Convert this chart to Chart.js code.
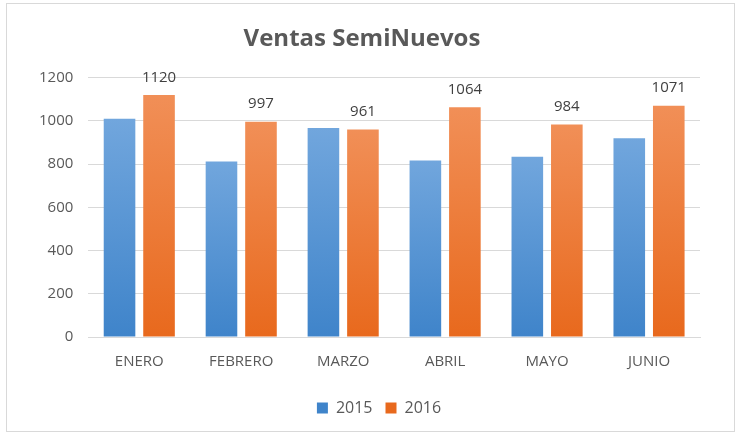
<!DOCTYPE html>
<html>
<head>
<meta charset="utf-8">
<script src="https://cdn.jsdelivr.net/npm/chart.js@4/dist/chart.umd.min.js"></script>
<style>
  html, body { margin: 0; padding: 0; background: #fff; }
  #wrap { position: relative; width: 742px; height: 435px; }
  #frame { position: absolute; left: 6px; top: 3px; width: 727px; height: 427px; border: 1px solid #d9d9d9; }
  canvas { position: absolute; left: 0; top: 0; }
</style>
</head>
<body>
<div id="wrap">
  <div id="frame"></div>
  <canvas id="chart" width="742" height="435"></canvas>
</div>
<script>
  /* ---------- data ---------- */
  const months = ["ENERO", "FEBRERO", "MARZO", "ABRIL", "MAYO", "JUNIO"];
  const ventas2015 = [1010, 812, 968, 817, 834, 920];
  const ventas2016 = [1120, 997, 961, 1064, 984, 1071];
  const yTicks = [0, 200, 400, 600, 800, 1000, 1200];

  const FONT = "'Open Sans', sans-serif";

  // per-bar vertical gradient (lighter at top)
  function barGradient(top, bottom) {
    return (ctx) => {
      const chart = ctx.chart;
      const y = chart.scales && chart.scales.y;
      if (!y || ctx.raw == null) return bottom;
      const yTop = y.getPixelForValue(ctx.raw);
      const yBot = y.getPixelForValue(0);
      if (!isFinite(yTop) || !isFinite(yBot) || yTop === yBot) return bottom;
      const g = chart.ctx.createLinearGradient(0, yTop, 0, yBot);
      g.addColorStop(0, top);
      g.addColorStop(1, bottom);
      return g;
    };
  }

  // value labels above the 2016 bars
  const valueLabels = {
    id: "valueLabels",
    afterDatasetsDraw(chart) {
      const c = chart.ctx;
      const meta = chart.getDatasetMeta(1);
      c.save();
      c.font = "15px " + FONT;
      c.fillStyle = "#404040";
      c.textAlign = "center";
      c.textBaseline = "bottom";
      meta.data.forEach((bar, i) => {
        c.fillText(String(ventas2016[i]), bar.x, bar.y - 10);
      });
      c.restore();
    }
  };

  // legend sits a bit right of centre in the original
  const nudgeLegend = {
    id: "nudgeLegend",
    afterLayout(chart) {
      if (!chart.legend) return;
      chart.legend.left += 17;
      chart.legend.right += 17;
    }
  };

  new Chart(document.getElementById("chart"), {
    type: "bar",
    data: {
      labels: months,
      datasets: [
        {
          label: "2015",
          data: ventas2015,
          backgroundColor: barGradient("#71a6dd", "#3f84ca"),
          categoryPercentage: 0.775,
          barPercentage: 0.8
        },
        {
          label: "2016",
          data: ventas2016,
          backgroundColor: barGradient("#f18f57", "#e8691d"),
          categoryPercentage: 0.775,
          barPercentage: 0.8
        }
      ]
    },
    options: {
      responsive: false,
      animation: false,
      layout: { padding: { left: 24, right: 42, top: 14, bottom: 9 } },
      plugins: {
        title: {
          display: true,
          text: "Ventas SemiNuevos",
          color: "#595959",
          font: { family: FONT, size: 24, weight: "bold" },
          padding: { top: 11, bottom: 24 }
        },
        legend: {
          position: "bottom",
          labels: {
            color: "#595959",
            font: { family: FONT, size: 16 },
            boxWidth: 11,
            boxHeight: 11,
            padding: 13
          }
        },
        tooltip: { enabled: false }
      },
      scales: {
        x: {
          grid: { display: false, drawTicks: false },
          border: { color: "#d9d9d9" },
          ticks: { color: "#595959", font: { family: FONT, size: 15 }, padding: 16 }
        },
        y: {
          min: 0,
          max: 1200,
          afterBuildTicks(axis) { axis.ticks = yTicks.map(v => ({ value: v })); },
          grid: { color: "#d9d9d9", drawTicks: false },
          border: { display: false },
          ticks: {
            color: "#595959",
            font: { family: FONT, size: 15 },
            padding: 15,
            callback: (v) => String(v)
          }
        }
      }
    },
    plugins: [valueLabels, nudgeLegend]
  });
</script>
</body>
</html>
